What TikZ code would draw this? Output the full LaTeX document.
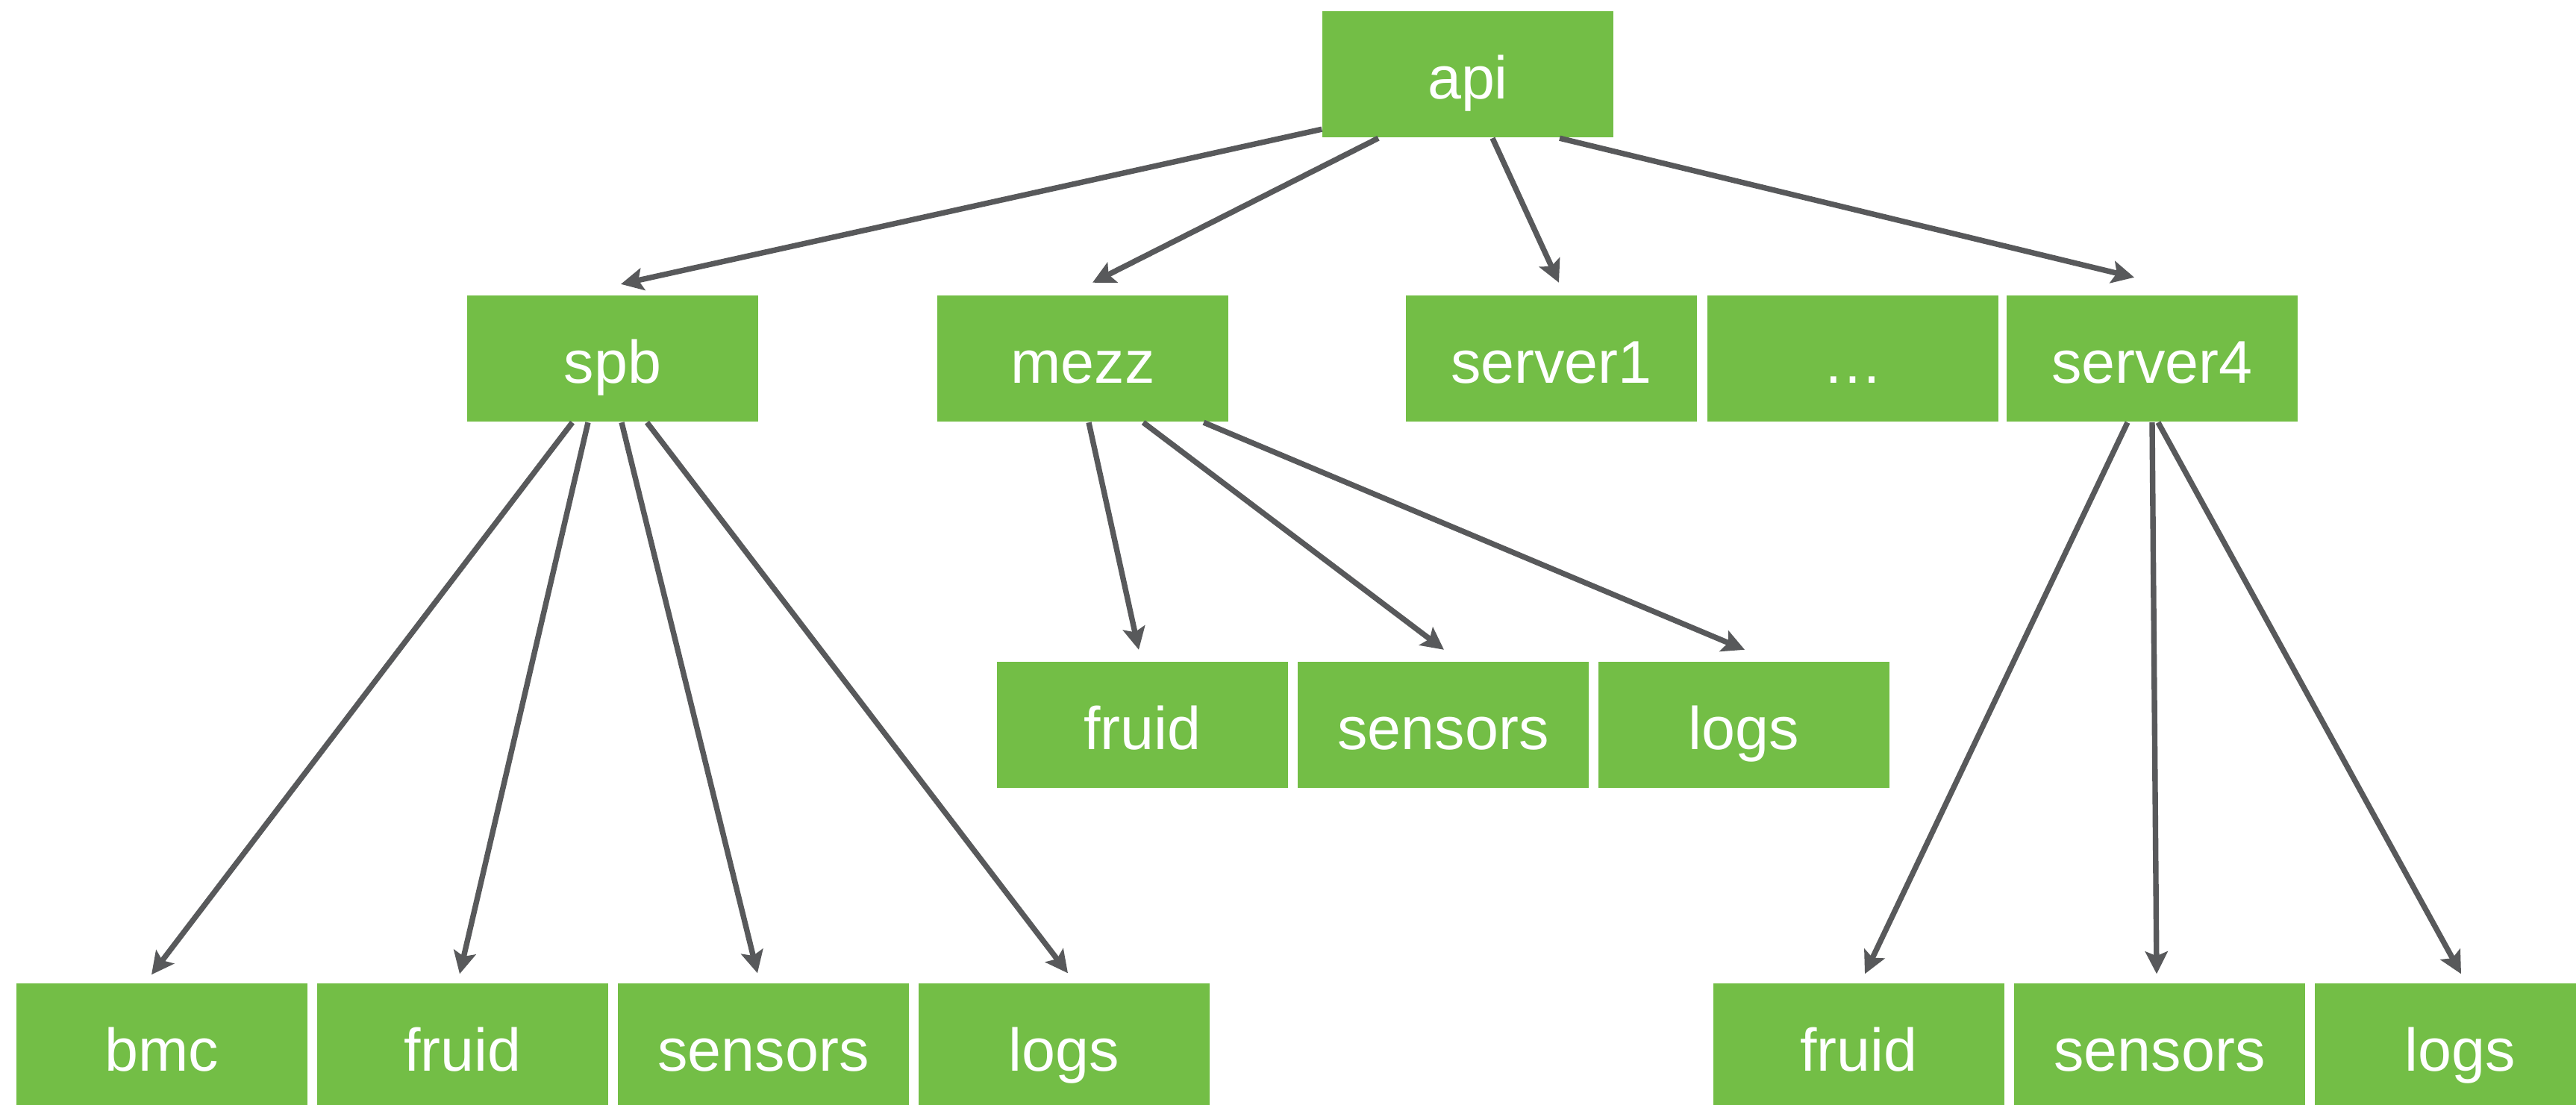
\documentclass[tikz,border=0pt]{standalone}
\usepackage{fontspec}
\setmainfont{Liberation Sans}
\usetikzlibrary{arrows.meta}
\definecolor{boxgreen}{RGB}{115,190,70}
\definecolor{linkgray}{RGB}{88,89,91}

\begin{document}
\begin{tikzpicture}[declare function={r1=13.80; r2=9.99; r3=5.09; r4=0.775;},
	box/.style={fill=boxgreen,text=white,inner sep=0pt,minimum width=3.9cm,minimum height=1.69cm,text height=0.8cm,text depth=0.14cm,font=\fontsize{23}{27}\selectfont},
	link/.style={draw=linkgray,line width=2.1pt,-{Stealth[length=0.3cm,width=0.3cm,inset=0.06cm]}}]
	\useasboundingbox (0,0) rectangle (34.52,14.8);
	% top
	\node[box] (api) at (19.67,r1) {api};
	% second row
	\foreach \n/\x/\t in {spb/8.21/spb,mezz/14.51/mezz,server1/20.79/server1,dots/24.83/…,server4/28.84/server4}{
		\node[box] (\n) at (\x,r2) {\t};
	}
	% mezz children
	\foreach \n/\x/\t in {fruidm/15.31/fruid,sensorsm/19.34/sensors,logsm/23.37/logs}{
		\node[box] (\n) at (\x,r3) {\t};
	}
	% spb and server4 children
	\foreach \n/\x/\t in {bmc/2.17/bmc,fruids/6.20/fruid,sensorss/10.23/sensors,logss/14.26/logs,fruidv/24.91/fruid,sensorsv/28.94/sensors,logsv/32.97/logs}{
		\node[box] (\n) at (\x,r4) {\t};
	}
	% links from api
	\draw[link] ([yshift=0.12cm]api.south west) -- ([xshift=0.11cm,yshift=0.15cm]spb.north);
	\foreach \a/\t/\b/\h in {-1.20/mezz/0.13/0.17,0.33/server1/0.10/0.17,1.23/server4/-0.24/0.24}{
		\draw[link] ([xshift=\a cm]api.south) -- ([xshift=\b cm,yshift=\h cm]\t.north);
	}
	% links to the leaves
	\foreach \s/\a/\t/\b/\h in {spb/-0.54/bmc/-0.14/0.11,spb/-0.33/fruids/-0.04/0.12,spb/0.12/sensorss/-0.08/0.13,spb/0.46/logss/0.05/0.13,
		mezz/0.08/fruidm/-0.05/0.15,mezz/0.81/sensorsm/0.01/0.15,mezz/1.62/logsm/0.01/0.15,
		server4/-0.33/fruidv/0.08/0.12,server4/0.0/sensorsv/-0.04/0.12,server4/0.08/logsv/0.01/0.12}{
		\draw[link] ([xshift=\a cm]\s.south) -- ([xshift=\b cm,yshift=\h cm]\t.north);
	}
\end{tikzpicture}
\end{document}
